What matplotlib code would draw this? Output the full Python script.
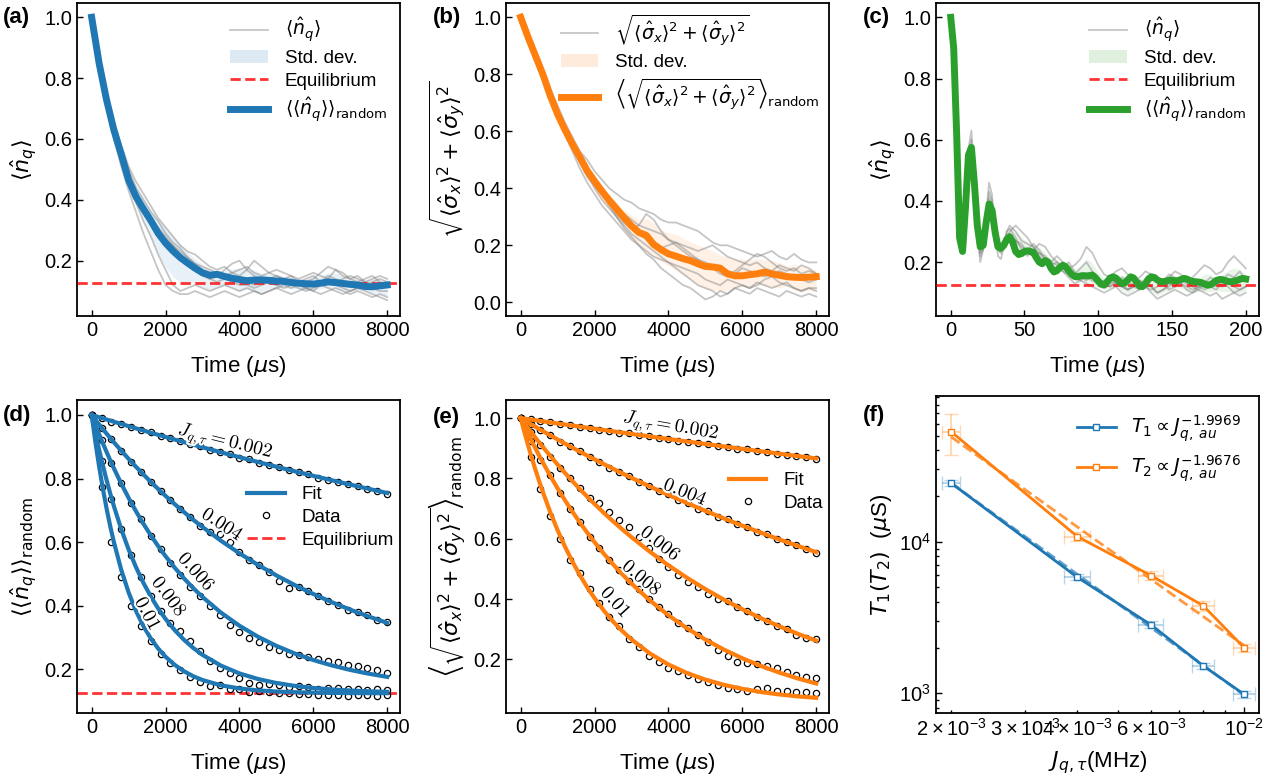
import numpy as np
import matplotlib
matplotlib.use('Agg')
import matplotlib.pyplot as plt
from matplotlib.lines import Line2D
from matplotlib.patches import Patch
import matplotlib.patheffects as pe

plt.rcParams['font.family'] = ['Liberation Sans', 'DejaVu Sans']

# ---------------- data ----------------
EQ = 0.125  # equilibrium population

# (a) and (b): time axis in us
t_long = np.arange(0, 8001, 200)

mean_a = [1.00, 0.85, 0.73, 0.63, 0.55, 0.465, 0.41, 0.37, 0.332, 0.29,
          0.258, 0.232, 0.21, 0.192, 0.175, 0.16, 0.152, 0.155, 0.148, 0.142,
          0.138, 0.134, 0.136, 0.137, 0.135, 0.133, 0.132, 0.128, 0.126, 0.124,
          0.123, 0.126, 0.13, 0.128, 0.125, 0.122, 0.12, 0.115, 0.114, 0.117,
          0.12]
runs_a = [
    [1.0, 0.84, 0.71, 0.60, 0.51, 0.43, 0.36, 0.29, 0.23, 0.17,
     0.12, 0.10, 0.09, 0.09, 0.10, 0.09, 0.08, 0.09, 0.10, 0.09,
     0.08, 0.09, 0.10, 0.09, 0.10, 0.11, 0.10, 0.09, 0.10, 0.11,
     0.10, 0.09, 0.10, 0.11, 0.10, 0.09, 0.10, 0.09, 0.08, 0.09, 0.08],
    [1.0, 0.85, 0.72, 0.62, 0.53, 0.45, 0.39, 0.33, 0.28, 0.22,
     0.17, 0.12, 0.10, 0.11, 0.12, 0.11, 0.10, 0.11, 0.12, 0.11,
     0.10, 0.11, 0.10, 0.09, 0.10, 0.11, 0.12, 0.11, 0.12, 0.11,
     0.10, 0.12, 0.13, 0.12, 0.11, 0.10, 0.11, 0.12, 0.11, 0.10, 0.10],
    [1.0, 0.86, 0.75, 0.66, 0.58, 0.51, 0.46, 0.42, 0.38, 0.34,
     0.31, 0.28, 0.25, 0.23, 0.22, 0.20, 0.18, 0.17, 0.18, 0.16,
     0.15, 0.17, 0.20, 0.18, 0.16, 0.15, 0.14, 0.15, 0.13, 0.14,
     0.15, 0.13, 0.14, 0.17, 0.16, 0.14, 0.13, 0.14, 0.15, 0.13, 0.12],
    [1.0, 0.85, 0.74, 0.64, 0.56, 0.48, 0.42, 0.38, 0.34, 0.30,
     0.27, 0.24, 0.21, 0.19, 0.18, 0.16, 0.14, 0.15, 0.17, 0.19,
     0.20, 0.17, 0.15, 0.14, 0.13, 0.12, 0.13, 0.14, 0.12, 0.11,
     0.12, 0.13, 0.15, 0.14, 0.13, 0.12, 0.11, 0.12, 0.13, 0.14, 0.13],
    [1.0, 0.85, 0.73, 0.63, 0.55, 0.47, 0.42, 0.37, 0.33, 0.29,
     0.27, 0.25, 0.22, 0.20, 0.17, 0.15, 0.14, 0.13, 0.14, 0.15,
     0.14, 0.13, 0.12, 0.13, 0.14, 0.15, 0.14, 0.13, 0.12, 0.13,
     0.14, 0.16, 0.18, 0.17, 0.15, 0.14, 0.15, 0.13, 0.12, 0.11, 0.12],
    [1.0, 0.84, 0.72, 0.63, 0.55, 0.48, 0.43, 0.38, 0.34, 0.31,
     0.28, 0.25, 0.23, 0.21, 0.19, 0.17, 0.16, 0.15, 0.14, 0.13,
     0.12, 0.12, 0.11, 0.12, 0.13, 0.12, 0.11, 0.12, 0.11, 0.10,
     0.11, 0.12, 0.11, 0.10, 0.09, 0.10, 0.11, 0.10, 0.09, 0.08, 0.07],
    [1.0, 0.86, 0.74, 0.65, 0.57, 0.50, 0.44, 0.40, 0.36, 0.33,
     0.29, 0.26, 0.24, 0.21, 0.19, 0.18, 0.17, 0.16, 0.15, 0.16,
     0.17, 0.18, 0.16, 0.15, 0.16, 0.17, 0.16, 0.15, 0.14, 0.15,
     0.16, 0.15, 0.14, 0.13, 0.14, 0.15, 0.14, 0.13, 0.14, 0.15, 0.14],
]

mean_b = [1.0, 0.93, 0.865, 0.80, 0.725, 0.66, 0.605, 0.555, 0.51, 0.462,
          0.425, 0.39, 0.357, 0.327, 0.297, 0.268, 0.245, 0.235, 0.203, 0.185,
          0.17, 0.162, 0.153, 0.146, 0.135, 0.126, 0.124, 0.12, 0.1, 0.093,
          0.093, 0.097, 0.1, 0.106, 0.1, 0.095, 0.09, 0.088, 0.087, 0.088,
          0.09]
runs_b = [
    [1.0, 0.93, 0.86, 0.79, 0.72, 0.65, 0.59, 0.53, 0.47, 0.42,
     0.38, 0.34, 0.31, 0.28, 0.25, 0.22, 0.2, 0.17, 0.15, 0.12,
     0.1, 0.08, 0.06, 0.05, 0.03, 0.01, 0.02, 0.04, 0.03, 0.05,
     0.04, 0.03, 0.05, 0.04, 0.03, 0.02, 0.04, 0.03, 0.02, 0.03, 0.02],
    [1.0, 0.93, 0.87, 0.80, 0.73, 0.67, 0.61, 0.56, 0.5, 0.45,
     0.4, 0.36, 0.33, 0.3, 0.27, 0.24, 0.22, 0.2, 0.18, 0.16,
     0.14, 0.12, 0.1, 0.08, 0.06, 0.05, 0.04, 0.02, 0.03, 0.05,
     0.06, 0.05, 0.07, 0.06, 0.05, 0.06, 0.07, 0.05, 0.04, 0.05, 0.05],
    [1.0, 0.93, 0.87, 0.81, 0.75, 0.69, 0.63, 0.58, 0.53, 0.5,
     0.46, 0.43, 0.4, 0.38, 0.36, 0.35, 0.33, 0.32, 0.31, 0.29,
     0.28, 0.28, 0.27, 0.26, 0.25, 0.23, 0.21, 0.2, 0.2, 0.19,
     0.18, 0.17, 0.16, 0.17, 0.18, 0.16, 0.15, 0.17, 0.15, 0.14, 0.14],
    [1.0, 0.93, 0.86, 0.8, 0.73, 0.67, 0.62, 0.57, 0.52, 0.47,
     0.43, 0.39, 0.35, 0.31, 0.28, 0.26, 0.27, 0.31, 0.29, 0.25,
     0.22, 0.2, 0.18, 0.16, 0.15, 0.14, 0.13, 0.12, 0.11, 0.1,
     0.12, 0.11, 0.1, 0.09, 0.1, 0.11, 0.1, 0.09, 0.08, 0.07, 0.08],
    [1.0, 0.93, 0.86, 0.79, 0.72, 0.66, 0.6, 0.54, 0.49, 0.44,
     0.41, 0.38, 0.36, 0.33, 0.3, 0.27, 0.24, 0.22, 0.2, 0.19,
     0.2, 0.21, 0.19, 0.17, 0.15, 0.13, 0.12, 0.1, 0.09, 0.11,
     0.13, 0.15, 0.17, 0.16, 0.14, 0.12, 0.11, 0.12, 0.1, 0.11, 0.1],
    [1.0, 0.93, 0.86, 0.8, 0.74, 0.68, 0.62, 0.56, 0.51, 0.46,
     0.42, 0.38, 0.34, 0.3, 0.26, 0.23, 0.2, 0.18, 0.16, 0.15,
     0.14, 0.13, 0.12, 0.11, 0.1, 0.08, 0.07, 0.06, 0.08, 0.07,
     0.06, 0.05, 0.06, 0.08, 0.09, 0.07, 0.06, 0.05, 0.04, 0.05, 0.04],
    [1.0, 0.93, 0.86, 0.79, 0.73, 0.67, 0.61, 0.55, 0.5, 0.46,
     0.43, 0.4, 0.37, 0.34, 0.31, 0.29, 0.27, 0.26, 0.25, 0.24,
     0.22, 0.21, 0.2, 0.19, 0.18, 0.19, 0.2, 0.18, 0.16, 0.15,
     0.14, 0.13, 0.14, 0.12, 0.11, 0.13, 0.12, 0.11, 0.13, 0.12, 0.1],
]

# (c): short time axis in us
t_c = np.arange(0, 201, 2)
t_c_runs = np.concatenate([np.arange(0, 41, 2), np.arange(44, 201, 4)])
mean_c = [1.0, 0.9, 0.62, 0.28, 0.235, 0.38, 0.55, 0.575, 0.46, 0.32,
          0.25, 0.255, 0.33, 0.39, 0.37, 0.3, 0.25, 0.245, 0.255, 0.275,
          0.283, 0.265, 0.235, 0.225, 0.228, 0.235, 0.237, 0.235, 0.232, 0.215,
          0.2, 0.195, 0.205, 0.2, 0.18, 0.168, 0.172, 0.183, 0.19, 0.185,
          0.172, 0.16, 0.153, 0.152, 0.155, 0.156, 0.155, 0.156, 0.158, 0.15,
          0.138, 0.128, 0.125, 0.135, 0.148, 0.152, 0.148, 0.138, 0.13, 0.132,
          0.142, 0.152, 0.148, 0.135, 0.122, 0.12, 0.13, 0.145, 0.152, 0.15,
          0.142, 0.137, 0.136, 0.138, 0.141, 0.141, 0.138, 0.14, 0.143, 0.147,
          0.145, 0.14, 0.137, 0.136, 0.135, 0.133, 0.128, 0.125, 0.126, 0.132,
          0.14, 0.143, 0.143, 0.14, 0.137, 0.136, 0.137, 0.14, 0.144, 0.147,
          0.145]
runs_c = [
    [1.0, 0.9, 0.6, 0.28, 0.23, 0.38, 0.57, 0.63, 0.48, 0.3,
     0.2, 0.24, 0.36, 0.46, 0.42, 0.3, 0.22, 0.21, 0.25, 0.3, 0.32,
     0.3, 0.27, 0.26, 0.25, 0.22, 0.2, 0.19, 0.2, 0.18, 0.17,
     0.16, 0.18, 0.2, 0.17, 0.14, 0.13, 0.12, 0.14, 0.13, 0.11,
     0.12, 0.14, 0.13, 0.12, 0.1, 0.11, 0.13, 0.12, 0.14, 0.15,
     0.13, 0.12, 0.11, 0.12, 0.13, 0.15, 0.13, 0.12, 0.11, 0.12],
    [1.0, 0.9, 0.62, 0.31, 0.25, 0.37, 0.53, 0.55, 0.45, 0.33,
     0.27, 0.27, 0.32, 0.37, 0.36, 0.31, 0.27, 0.26, 0.27, 0.29, 0.29,
     0.27, 0.25, 0.24, 0.26, 0.24, 0.21, 0.2, 0.22, 0.2, 0.18,
     0.19, 0.21, 0.25, 0.23, 0.19, 0.16, 0.15, 0.17, 0.18, 0.16,
     0.14, 0.15, 0.17, 0.16, 0.14, 0.13, 0.15, 0.17, 0.16, 0.14,
     0.15, 0.17, 0.19, 0.18, 0.16, 0.17, 0.2, 0.22, 0.2, 0.18],
    [1.0, 0.89, 0.61, 0.29, 0.24, 0.39, 0.56, 0.6, 0.47, 0.31,
     0.22, 0.25, 0.35, 0.43, 0.4, 0.31, 0.24, 0.23, 0.26, 0.3, 0.31,
     0.28, 0.24, 0.22, 0.24, 0.26, 0.25, 0.22, 0.2, 0.18, 0.17,
     0.15, 0.14, 0.13, 0.12, 0.11, 0.1, 0.11, 0.12, 0.1, 0.09,
     0.1, 0.11, 0.12, 0.1, 0.08, 0.09, 0.1, 0.11, 0.1, 0.09,
     0.1, 0.11, 0.1, 0.09, 0.1, 0.08, 0.09, 0.1, 0.09, 0.1],
    [1.0, 0.9, 0.63, 0.32, 0.26, 0.36, 0.5, 0.52, 0.43, 0.32,
     0.27, 0.28, 0.31, 0.35, 0.35, 0.3, 0.26, 0.25, 0.26, 0.27, 0.27,
     0.25, 0.23, 0.24, 0.23, 0.21, 0.2, 0.19, 0.18, 0.17, 0.16,
     0.15, 0.16, 0.15, 0.14, 0.13, 0.14, 0.15, 0.13, 0.12, 0.11,
     0.12, 0.13, 0.12, 0.11, 0.12, 0.14, 0.16, 0.15, 0.13, 0.12,
     0.11, 0.12, 0.14, 0.13, 0.12, 0.14, 0.16, 0.15, 0.14, 0.15],
    [1.0, 0.91, 0.62, 0.3, 0.24, 0.38, 0.55, 0.58, 0.46, 0.32,
     0.23, 0.24, 0.33, 0.41, 0.39, 0.31, 0.25, 0.24, 0.25, 0.28, 0.3,
     0.32, 0.3, 0.28, 0.25, 0.23, 0.22, 0.2, 0.19, 0.17, 0.15,
     0.13, 0.14, 0.16, 0.15, 0.13, 0.12, 0.13, 0.14, 0.12, 0.11,
     0.13, 0.14, 0.13, 0.12, 0.1, 0.11, 0.12, 0.14, 0.13, 0.11,
     0.1, 0.12, 0.13, 0.12, 0.11, 0.13, 0.12, 0.1, 0.11, 0.12],
    [1.0, 0.9, 0.61, 0.3, 0.25, 0.37, 0.54, 0.56, 0.45, 0.31,
     0.24, 0.26, 0.33, 0.38, 0.37, 0.31, 0.26, 0.25, 0.26, 0.28, 0.29,
     0.27, 0.26, 0.23, 0.22, 0.23, 0.21, 0.18, 0.17, 0.18, 0.2,
     0.17, 0.15, 0.14, 0.16, 0.15, 0.13, 0.12, 0.13, 0.15, 0.14,
     0.12, 0.11, 0.12, 0.14, 0.15, 0.13, 0.11, 0.12, 0.14, 0.13,
     0.12, 0.11, 0.13, 0.15, 0.14, 0.12, 0.13, 0.15, 0.17, 0.14],
]

# (d), (e): fits and data for J_q,tau = 0.002 ... 0.01
J_labels = ['0.002', '0.004', '0.006', '0.008', '0.01']
t_fit = [0, 100, 200, 300, 400, 500, 600, 800, 1000, 1200, 1400, 1600, 1800,
         2000, 2250, 2500, 2750, 3000, 3500, 4000, 4500, 5000, 5500, 6000,
         6500, 7000, 7500, 8000]
t_data = np.linspace(0, 8000, 31)

fit_d = [
    [1.0, 0.9964, 0.9928, 0.9893, 0.9857, 0.9822, 0.9787, 0.9717, 0.9647, 0.9578,
     0.9510, 0.9442, 0.9375, 0.9309, 0.9226, 0.9145, 0.9064, 0.8984, 0.8826,
     0.8672, 0.8521, 0.8373, 0.8228, 0.8086, 0.7947, 0.7810, 0.7677, 0.7546],
    [1.0, 0.9851, 0.9704, 0.9560, 0.9419, 0.9280, 0.9143, 0.8876, 0.8619, 0.8370,
     0.8129, 0.7897, 0.7672, 0.7455, 0.7194, 0.6945, 0.6705, 0.6476, 0.6046,
     0.5651, 0.5288, 0.4956, 0.4651, 0.4371, 0.4114, 0.3878, 0.3662, 0.3463],
    [1.0, 0.9696, 0.9402, 0.9118, 0.8845, 0.8581, 0.8326, 0.7842, 0.7392, 0.6972,
     0.6581, 0.6216, 0.5877, 0.5560, 0.5196, 0.4861, 0.4556, 0.4276, 0.3785,
     0.3374, 0.3029, 0.2741, 0.2499, 0.2296, 0.2126, 0.1984, 0.1865, 0.1765],
    [1.0, 0.9441, 0.8918, 0.8428, 0.7970, 0.7541, 0.7139, 0.6411, 0.5772, 0.5213,
     0.4723, 0.4294, 0.3917, 0.3587, 0.3232, 0.2930, 0.2675, 0.2458, 0.2119,
     0.1874, 0.1699, 0.1573, 0.1482, 0.1417, 0.1370, 0.1336, 0.1312, 0.1295],
    [1.0, 0.9156, 0.8393, 0.7703, 0.7080, 0.6517, 0.6009, 0.5134, 0.4420, 0.3838,
     0.3362, 0.2974, 0.2657, 0.2398, 0.2141, 0.1942, 0.1786, 0.1666, 0.1501,
     0.1401, 0.1341, 0.1305, 0.1283, 0.1270, 0.1262, 0.1257, 0.1254, 0.1253],
]
data_d = [
    [1.0, 0.99, 0.979, 0.972, 0.961, 0.953, 0.945, 0.934, 0.927, 0.918,
     0.909, 0.902, 0.891, 0.884, 0.876, 0.866, 0.86, 0.85, 0.843, 0.836,
     0.826, 0.82, 0.813, 0.803, 0.797, 0.79, 0.782, 0.777, 0.767, 0.761, 0.752],
    [1.0, 0.958, 0.925, 0.886, 0.853, 0.82, 0.79, 0.76, 0.732, 0.703,
     0.679, 0.652, 0.632, 0.625, 0.6, 0.568, 0.545, 0.528, 0.507, 0.478,
     0.455, 0.46, 0.446, 0.43, 0.416, 0.404, 0.388, 0.38, 0.372, 0.356, 0.348],
    [1.0, 0.92, 0.848, 0.786, 0.722, 0.672, 0.62, 0.578, 0.533, 0.498,
     0.46, 0.43, 0.4, 0.372, 0.34, 0.318, 0.298, 0.285, 0.272, 0.262,
     0.25, 0.246, 0.238, 0.232, 0.226, 0.222, 0.215, 0.21, 0.203, 0.198, 0.19],
    [1.0, 0.855, 0.735, 0.642, 0.56, 0.49, 0.43, 0.385, 0.345, 0.32,
     0.29, 0.258, 0.228, 0.206, 0.19, 0.172, 0.158, 0.152, 0.155, 0.15,
     0.145, 0.148, 0.146, 0.14, 0.143, 0.142, 0.138, 0.14, 0.136, 0.137, 0.135],
    [1.0, 0.775, 0.6, 0.49, 0.4, 0.338, 0.29, 0.25, 0.22, 0.198,
     0.175, 0.162, 0.148, 0.152, 0.14, 0.138, 0.13, 0.133, 0.128, 0.125,
     0.127, 0.124, 0.122, 0.12, 0.119, 0.12, 0.118, 0.12, 0.119, 0.118, 0.119],
]

fit_e = [
    [1.0, 0.9982, 0.9964, 0.9946, 0.9928, 0.9911, 0.9893, 0.9857, 0.9822, 0.9787,
     0.9752, 0.9717, 0.9682, 0.9647, 0.9604, 0.9561, 0.9518, 0.9476, 0.9391,
     0.9307, 0.9224, 0.9142, 0.9060, 0.8979, 0.8899, 0.8820, 0.8741, 0.8662],
    [1.0, 0.9927, 0.9854, 0.9782, 0.9710, 0.9639, 0.9569, 0.9429, 0.9291, 0.9154,
     0.9020, 0.8888, 0.8758, 0.8633, 0.8475, 0.8321, 0.8169, 0.8020, 0.7730,
     0.7452, 0.7183, 0.6923, 0.6674, 0.6433, 0.6201, 0.5977, 0.5762, 0.5554],
    [1.0, 0.9834, 0.9671, 0.9510, 0.9352, 0.9197, 0.9044, 0.8746, 0.8458, 0.8179,
     0.7910, 0.7649, 0.7397, 0.7154, 0.6860, 0.6579, 0.6310, 0.6051, 0.5566,
     0.5117, 0.4706, 0.4328, 0.3980, 0.3660, 0.3366, 0.3096, 0.2847, 0.2619],
    [1.0, 0.9738, 0.9483, 0.9235, 0.8993, 0.8758, 0.8529, 0.8088, 0.7670, 0.7274,
     0.6898, 0.6542, 0.6204, 0.5884, 0.5506, 0.5152, 0.4821, 0.4512, 0.3951,
     0.3462, 0.3032, 0.2655, 0.2324, 0.2035, 0.1782, 0.1561, 0.1367, 0.1197],
    [1.0, 0.9539, 0.9101, 0.8684, 0.8287, 0.7910, 0.7551, 0.6884, 0.6282, 0.5736,
     0.5243, 0.4796, 0.4392, 0.4027, 0.3618, 0.3257, 0.2939, 0.2659, 0.2192,
     0.1829, 0.1546, 0.1326, 0.1154, 0.1021, 0.0916, 0.0835, 0.0772, 0.0723],
]
data_e = [
    [1.0, 0.996, 0.99, 0.987, 0.98, 0.977, 0.97, 0.968, 0.962, 0.958,
     0.952, 0.949, 0.943, 0.94, 0.934, 0.931, 0.925, 0.922, 0.916, 0.914,
     0.908, 0.905, 0.899, 0.896, 0.89, 0.888, 0.882, 0.879, 0.873, 0.871, 0.864],
    [1.0, 0.982, 0.96, 0.945, 0.922, 0.908, 0.89, 0.87, 0.856, 0.836,
     0.822, 0.808, 0.788, 0.776, 0.758, 0.748, 0.728, 0.718, 0.7, 0.692,
     0.672, 0.664, 0.648, 0.64, 0.622, 0.614, 0.6, 0.588, 0.578, 0.565, 0.552],
    [1.0, 0.953, 0.91, 0.872, 0.836, 0.8, 0.768, 0.735, 0.718, 0.69,
     0.662, 0.64, 0.606, 0.568, 0.534, 0.505, 0.478, 0.455, 0.44, 0.418,
     0.4, 0.392, 0.372, 0.36, 0.34, 0.326, 0.312, 0.3, 0.282, 0.272, 0.266],
    [1.0, 0.925, 0.862, 0.81, 0.752, 0.70, 0.656, 0.606, 0.57, 0.53,
     0.495, 0.46, 0.432, 0.40, 0.372, 0.35, 0.322, 0.303, 0.28, 0.258,
     0.232, 0.21, 0.19, 0.187, 0.183, 0.178, 0.17, 0.158, 0.148, 0.142, 0.138],
    [1.0, 0.87, 0.765, 0.675, 0.6, 0.53, 0.485, 0.432, 0.388, 0.342,
     0.31, 0.268, 0.24, 0.21, 0.19, 0.172, 0.16, 0.148, 0.135, 0.124,
     0.116, 0.106, 0.1, 0.094, 0.102, 0.104, 0.096, 0.094, 0.092, 0.09, 0.088],
]

# (f): T1 / T2 versus coupling
J = [0.002, 0.004, 0.006, 0.008, 0.01]
J_err = [0.0001, 0.00028, 0.0004, 0.0005, 0.0006]
T1 = [24300, 5820, 2825, 1515, 985]
T1_err = [1000, 250, 150, 80, 50]
T1_fit = [24300, 6085, 2707, 1523, 975]
T2 = [53000, 10800, 5970, 3770, 2000]
T2_err = [16000, 700, 400, 300, 120]
T2_fit = [49000, 12500, 5640, 3200, 2070]

# ---------------- figure ----------------
W, H = 1269, 784
fig = plt.figure(figsize=(W / 100, H / 100), dpi=100)


def box(l, t, r, b):
    return [l / W, 1 - b / H, (r - l) / W, (b - t) / H]


ax_a = fig.add_axes(box(77, 3, 400, 316))
ax_b = fig.add_axes(box(506, 3, 829, 316))
ax_c = fig.add_axes(box(936, 3, 1259, 316))
ax_d = fig.add_axes(box(77, 400, 400, 713))
ax_e = fig.add_axes(box(506, 400, 829, 713))
ax_f = fig.add_axes(box(936, 396, 1259, 713))

for ax in [ax_a, ax_b, ax_c, ax_d, ax_e, ax_f]:
    ax.tick_params(which='both', direction='in', labelsize=14.5, width=1)
    ax.tick_params(which='major', length=4.5)
    ax.tick_params(which='minor', length=2.5)
    for sp in ax.spines.values():
        sp.set_linewidth(1.3)

GRAY = dict(color='gray', alpha=0.45, lw=1.3)
EQL = dict(color='red', alpha=0.8, ls='--', lw=2)
LAB = 16
LEG = 13.5
LEG_KW = dict(frameon=False, fontsize=LEG, labelspacing=0.3, handletextpad=0.9)


def traces_panel(ax, t_runs, runs, t_mean, mean, col, eq=True):
    arr = np.array(runs)
    mu, sd = arr.mean(axis=0), arr.std(axis=0)
    ax.fill_between(t_runs, mu - sd, mu + sd, color=col, alpha=0.1, lw=0, zorder=1)
    for r in runs:
        ax.plot(t_runs, r, zorder=2, **GRAY)
    if eq:
        ax.axhline(EQ, zorder=3, **EQL)
    ax.plot(t_mean, mean, color=col, lw=5, zorder=4)


n_lab = r'$\langle \hat{n}_q \rangle$'
nn_lab = r'$\langle\langle \hat{n}_q \rangle\rangle_{\mathrm{random}}$'
sig_lab = r'$\sqrt{\langle \hat{\sigma}_x \rangle^2 + \langle \hat{\sigma}_y \rangle^2}$'
sig_avg = (r'$\left\langle \sqrt{\langle \hat{\sigma}_x \rangle^2 + '
           r'\langle \hat{\sigma}_y \rangle^2} \right\rangle_{\mathrm{random}}$')
time_lab = r'Time ($\mu$s)'

# (a)
traces_panel(ax_a, t_long, runs_a, t_long, mean_a, 'C0')
ax_a.set_xlim(-397, 8347)
ax_a.set_ylim(0.018, 1.047)
ax_a.set_xticks([0, 2000, 4000, 6000, 8000])
ax_a.set_yticks([0.2, 0.4, 0.6, 0.8, 1.0])
ax_a.set_xlabel(time_lab, fontsize=LAB, labelpad=10)
ax_a.set_ylabel(n_lab, fontsize=LAB)
ax_a.legend([Line2D([], [], **GRAY), Patch(color='C0', alpha=0.15, lw=0),
             Line2D([], [], **EQL), Line2D([], [], color='C0', lw=5)],
            [n_lab, 'Std. dev.', 'Equilibrium', nn_lab],
            loc='upper right', borderaxespad=0.3, **LEG_KW)

# (b)
traces_panel(ax_b, t_long, runs_b, t_long, mean_b, 'C1', eq=False)
ax_b.set_xlim(-397, 8347)
ax_b.set_ylim(-0.048, 1.05)
ax_b.set_xticks([0, 2000, 4000, 6000, 8000])
ax_b.set_yticks([0.0, 0.2, 0.4, 0.6, 0.8, 1.0])
ax_b.set_xlabel(time_lab, fontsize=LAB, labelpad=10)
ax_b.set_ylabel(sig_lab, fontsize=LAB)
ax_b.legend([Line2D([], [], **GRAY), Patch(color='C1', alpha=0.15, lw=0),
             Line2D([], [], color='C1', lw=5)],
            [sig_lab, 'Std. dev.', sig_avg],
            loc='upper right', borderaxespad=0.1, **LEG_KW)

# (c)
traces_panel(ax_c, t_c_runs, runs_c, t_c, mean_c, 'C2')
ax_c.set_xlim(-10, 209)
ax_c.set_ylim(0.024, 1.047)
ax_c.set_xticks([0, 50, 100, 150, 200])
ax_c.set_yticks([0.2, 0.4, 0.6, 0.8, 1.0])
ax_c.set_xlabel(time_lab, fontsize=LAB, labelpad=10)
ax_c.set_ylabel(n_lab, fontsize=LAB)
ax_c.legend([Line2D([], [], **GRAY), Patch(color='C2', alpha=0.15, lw=0),
             Line2D([], [], **EQL), Line2D([], [], color='C2', lw=5)],
            [n_lab, 'Std. dev.', 'Equilibrium', nn_lab],
            loc='upper right', borderaxespad=0.3, **LEG_KW)

# (d), (e)
DATA_ST = dict(ls='none', marker='o', mfc='none', mec='black', ms=4.5, mew=0.9)
OUT = [pe.withStroke(linewidth=3, foreground='white')]

lab_d = [(3620, 0.915, -14), (3540, 0.654, -33), (2830, 0.505, -48),
         (2090, 0.427, -53), (1505, 0.374, -62)]
lab_e = [(4073, 0.972, -10), (4459, 0.753, -22), (3784, 0.582, -38),
         (3278, 0.468, -40), (2563, 0.388, -48)]


def fit_panel(ax, fits, datas, col, labs):
    for f, d in zip(fits, datas):
        ax.plot(t_data, d, zorder=2, **DATA_ST)
        ax.plot(t_fit, f, color=col, lw=3, zorder=3)
    for i, (x, y, rot) in enumerate(labs):
        s = r'$J_{q,\tau}=' + J_labels[i] + '$' if i == 0 else '$' + J_labels[i] + '$'
        ax.text(x, y, s, rotation=rot, rotation_mode='anchor', ha='center',
                va='center', fontsize=14, math_fontfamily='cm', zorder=5,
                path_effects=OUT)
    ax.set_xlim(-397, 8347)
    ax.set_xticks([0, 2000, 4000, 6000, 8000])
    ax.set_yticks([0.2, 0.4, 0.6, 0.8, 1.0])
    ax.set_xlabel(time_lab, fontsize=LAB, labelpad=10)


ax_d.axhline(EQ, zorder=1, **EQL)
fit_panel(ax_d, fit_d, data_d, 'C0', lab_d)
ax_d.set_ylim(0.063, 1.047)
ax_d.set_ylabel(nn_lab, fontsize=LAB)
ax_d.legend([Line2D([], [], color='C0', lw=3), Line2D([], [], **DATA_ST),
             Line2D([], [], **EQL)], ['Fit', 'Data', 'Equilibrium'],
            loc='upper right', bbox_to_anchor=(1.01, 0.755),
            borderaxespad=0.1, **LEG_KW)

fit_panel(ax_e, fit_e, data_e, 'C1', lab_e)
ax_e.set_ylim(0.022, 1.06)
ax_e.set_ylabel(sig_avg, fontsize=LAB)
ax_e.legend([Line2D([], [], color='C1', lw=3), Line2D([], [], **DATA_ST)],
            ['Fit', 'Data'], loc='upper right', bbox_to_anchor=(1.01, 0.80),
            borderaxespad=0.1, **LEG_KW)

# (f)
ax_f.set_xscale('log')
ax_f.set_yscale('log')
ax_f.errorbar(J, T1, xerr=J_err, yerr=T1_err, fmt='none', ecolor='C0',
              alpha=0.3, capsize=5, elinewidth=1.5)
ax_f.errorbar(J, T2, xerr=J_err, yerr=T2_err, fmt='none', ecolor='C1',
              alpha=0.3, capsize=5, elinewidth=1.5)
ax_f.plot(J, T1_fit, '--', color='C0', lw=2, alpha=0.7)
ax_f.plot(J, T2_fit, '--', color='C1', lw=2, alpha=0.8)
ax_f.plot(J, T1, '-s', color='C0', mfc='white', ms=5, lw=2,
          label=r'$T_1 \propto J_{q,\;au}^{-1.9969}$')
ax_f.plot(J, T2, '-s', color='C1', mfc='white', ms=5, lw=2,
          label=r'$T_2 \propto J_{q,\;au}^{-1.9676}$')
ax_f.set_xlim(1.84e-3, 1.086e-2)
ax_f.set_ylim(741, 91200)
ax_f.set_xlabel(r'$J_{q,\tau}$(MHz)', fontsize=LAB, labelpad=7)
ax_f.set_ylabel(r'$T_1(T_2)$  ($\mu$S)', fontsize=LAB)
ax_f.legend(loc='upper right', frameon=False, fontsize=14, labelspacing=0.5)

# panel tags
for tag, x, y in [('(a)', 3, 17), ('(b)', 433, 17), ('(c)', 863, 17),
                  ('(d)', 3, 415), ('(e)', 433, 418), ('(f)', 863, 415)]:
    fig.text(x / W, 1 - y / H, tag, fontsize=16, fontweight='bold',
             ha='left', va='center')

fig.savefig('out.png', dpi=100)
